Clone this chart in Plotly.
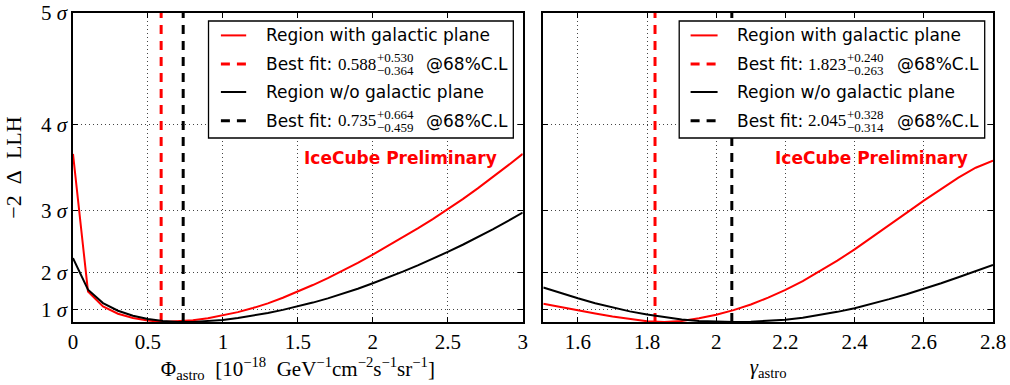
import plotly.graph_objects as go

# ---------------- data ----------------
phi_grid = [0.0, 0.1, 0.2, 0.3, 0.4, 0.5, 0.6, 0.7, 0.8, 0.9, 1.0, 1.1, 1.2, 1.3, 1.4, 1.5,
            1.6, 1.7, 1.8, 1.9, 2.0, 2.1, 2.2, 2.3, 2.4, 2.5, 2.6, 2.7, 2.8, 2.9, 3.0]
phi_with_gp = [13.6, 2.47, 1.26, 0.67, 0.32, 0.12, 0.0, 0.04, 0.14, 0.30, 0.52, 0.80, 1.13, 1.51,
               1.96, 2.46, 2.99, 3.55, 4.14, 4.78, 5.45, 6.14, 6.85, 7.58, 8.33, 9.11, 9.94,
               10.81, 11.71, 12.65, 13.6]
phi_wo_gp = [5.17, 2.61, 1.53, 0.91, 0.51, 0.24, 0.09, 0.01, 0.01, 0.06, 0.17, 0.32, 0.51, 0.73,
             0.98, 1.26, 1.57, 1.91, 2.28, 2.69, 3.13, 3.59, 4.07, 4.58, 5.11, 5.67, 6.25, 6.86,
             7.5, 8.16, 8.85]

gamma_grid = [1.50, 1.55, 1.60, 1.65, 1.70, 1.75, 1.80, 1.85, 1.90, 1.95, 2.00, 2.05, 2.10, 2.15,
              2.20, 2.25, 2.30, 2.35, 2.40, 2.45, 2.50, 2.55, 2.60, 2.65, 2.70, 2.75, 2.80]
gamma_with_gp = [1.48, 1.20, 0.94, 0.69, 0.45, 0.23, 0.06, 0.01, 0.09, 0.30, 0.59, 0.96, 1.42, 1.97,
                 2.60, 3.31, 4.10, 4.96, 5.88, 6.84, 7.83, 8.83, 9.82, 10.78, 11.68, 12.48, 13.06]
gamma_wo_gp = [2.79, 2.33, 1.92, 1.52, 1.17, 0.86, 0.60, 0.38, 0.21, 0.09, 0.02, 0.0, 0.02, 0.08,
               0.19, 0.35, 0.56, 0.82, 1.12, 1.47, 1.85, 2.25, 2.68, 3.14, 3.62, 4.11, 4.62]

# best fits: (value, +err, -err)
phi_best_with = (0.588, 0.530, 0.364)
phi_best_wo = (0.735, 0.664, 0.459)
gamma_best_with = (1.823, 0.240, 0.263)
gamma_best_wo = (2.045, 0.328, 0.314)

sigma_vals = [1, 4, 9, 16, 25]
sigma_text = ["1 <i>σ</i>", "2 <i>σ</i>", "3 <i>σ</i>", "4 <i>σ</i>", "5 <i>σ</i>"]
phi_ticks = [0, 0.5, 1, 1.5, 2, 2.5, 3]
phi_ticktext = ["0", "0.5", "1", "1.5", "2", "2.5", "3"]
gamma_ticks = [1.6, 1.8, 2.0, 2.2, 2.4, 2.6, 2.8]
gamma_ticktext = ["1.6", "1.8", "2", "2.2", "2.4", "2.6", "2.8"]

# ---------------- layout helpers ----------------
W, H = 1010, 385
L, R, T, B = 72.7, 993.3, 13.3, 322.3   # plot area in page pixels
PW, PH = R - L, B - T

def px(x):
    return (x - L) / PW
def py(y):
    return (B - y) / PH

RED = "#ff0000"
BLK = "#000000"
SANS = "DejaVu Sans"
SERIF = "Liberation Serif"
DASH = "9px,7px"
NB = "\u00a0"

fig = go.Figure()

def add_panel(xgrid, y_with, y_wo, best_with, best_wo, xa, ya):
    fig.add_trace(go.Scatter(x=xgrid, y=y_with, mode="lines", name="Region with galactic plane",
                             line=dict(color=RED, width=2), xaxis=xa, yaxis=ya, showlegend=False))
    fig.add_trace(go.Scatter(x=[best_with[0], best_with[0]], y=[0, 25], mode="lines",
                             name="Best fit (with galactic plane)",
                             line=dict(color=RED, width=3, dash=DASH), xaxis=xa, yaxis=ya,
                             showlegend=False))
    fig.add_trace(go.Scatter(x=xgrid, y=y_wo, mode="lines", name="Region w/o galactic plane",
                             line=dict(color=BLK, width=2), xaxis=xa, yaxis=ya, showlegend=False))
    fig.add_trace(go.Scatter(x=[best_wo[0], best_wo[0]], y=[0, 25], mode="lines",
                             name="Best fit (w/o galactic plane)",
                             line=dict(color=BLK, width=3, dash=DASH), xaxis=xa, yaxis=ya,
                             showlegend=False))

add_panel(phi_grid, phi_with_gp, phi_wo_gp, phi_best_with, phi_best_wo, "x", "y")
add_panel(gamma_grid, gamma_with_gp, gamma_wo_gp, gamma_best_with, gamma_best_wo, "x2", "y2")

axis_common = dict(
    showline=True, linecolor="black", linewidth=1.6, mirror="allticks",
    ticks="inside", ticklen=5, tickwidth=1, tickcolor="black",
    showgrid=True, gridcolor="#444444", gridwidth=1, griddash="1px,3px",
    zeroline=False, automargin=False,
    tickfont=dict(family=SERIF, size=21, color="black"),
)

fig.update_layout(
    template="none",
    font=dict(family=SERIF, color="black"),
    width=W, height=H,
    margin=dict(l=L, r=W - R, t=T, b=H - B, pad=0),
    paper_bgcolor="white", plot_bgcolor="white",
    showlegend=False,
    xaxis=dict(domain=[px(72.7), px(522.7)], range=[0, 3], anchor="y",
               tickvals=phi_ticks, ticktext=phi_ticktext,
               title=dict(text="Φ<sub>astro</sub>" + NB * 2 + "[10<sup>−18</sup>" + NB * 2
                          + "GeV<sup>−1</sup>cm<sup>−2</sup>s<sup>−1</sup>sr<sup>−1</sup>]",
                          font=dict(family=SERIF, size=21, color="black"), standoff=6),
               **axis_common),
    yaxis=dict(domain=[0, 1], range=[0, 25], anchor="x",
               tickvals=sigma_vals, ticktext=sigma_text,
               title=dict(text="−2" + NB * 2 + "Δ" + NB * 2 + "LLH",
                          font=dict(family=SERIF, size=22, color="black"), standoff=13),
               **axis_common),
    xaxis2=dict(domain=[px(543.3), px(993.3)], range=[1.5, 2.8], anchor="y2",
                tickvals=gamma_ticks, ticktext=gamma_ticktext,
                title=dict(text="<i>γ</i><sub>astro</sub>",
                           font=dict(family=SERIF, size=21, color="black"), standoff=6),
                **axis_common),
    yaxis2=dict(domain=[0, 1], range=[0, 25], anchor="x2",
                tickvals=sigma_vals, showticklabels=False,
                **axis_common),
)

shapes = []
annotations = []

def legend_box(left, right, line_x0, line_x1, text_x, num_x, supsub_x, cl_x, labels):
    top, bottom = 21.3, 138.3
    shapes.append(dict(type="rect", xref="paper", yref="paper",
                       x0=px(left), x1=px(right), y0=py(bottom), y1=py(top),
                       line=dict(color="black", width=1.3), fillcolor="white", layer="above"))
    rows = [35.7, 64.3, 92.3, 121.0]
    styles = [(RED, 2, "solid"), (RED, 3, DASH), (BLK, 2, "solid"), (BLK, 3, DASH)]
    for yr, (c, w, d) in zip(rows, styles):
        shapes.append(dict(type="line", xref="paper", yref="paper",
                           x0=px(line_x0), x1=px(line_x1), y0=py(yr), y1=py(yr),
                           line=dict(color=c, width=w, dash=d), layer="above"))
    name_with, best_with, name_wo, best_wo = labels
    for yr, name in ((rows[0], name_with), (rows[2], name_wo)):
        annotations.append(dict(xref="paper", yref="paper", x=px(text_x), y=py(yr),
                                xanchor="left", yanchor="middle", showarrow=False, text=name,
                                font=dict(family=SANS, size=17, color="black")))
    for yr, bf in ((rows[1], best_with), (rows[3], best_wo)):
        annotations.append(dict(xref="paper", yref="paper", x=px(text_x), y=py(yr),
                                xanchor="left", yanchor="middle", showarrow=False, text="Best fit:",
                                font=dict(family=SANS, size=17, color="black")))
        annotations.append(dict(xref="paper", yref="paper", x=px(num_x), y=py(yr),
                                xanchor="left", yanchor="middle", showarrow=False,
                                text=f"{bf[0]:.3f}",
                                font=dict(family=SERIF, size=17, color="black")))
        annotations.append(dict(xref="paper", yref="paper", x=px(supsub_x), y=py(yr - 6.5),
                                xanchor="left", yanchor="middle", showarrow=False,
                                text=f"+{bf[1]:.3f}",
                                font=dict(family=SERIF, size=13, color="black")))
        annotations.append(dict(xref="paper", yref="paper", x=px(supsub_x), y=py(yr + 6.5),
                                xanchor="left", yanchor="middle", showarrow=False,
                                text=f"−{bf[2]:.3f}",
                                font=dict(family=SERIF, size=13, color="black")))
        annotations.append(dict(xref="paper", yref="paper", x=px(cl_x), y=py(yr),
                                xanchor="left", yanchor="middle", showarrow=False, text="@68%C.L",
                                font=dict(family=SANS, size=17, color="black")))

legend_box(208.3, 513.3, 220.7, 246.0, 264.0, 336.0, 375.0, 424.0,
           ("Region with galactic plane", phi_best_with, "Region w/o galactic plane", phi_best_wo))
legend_box(679.3, 985.0, 690.7, 717.7, 735.0, 806.0, 845.0, 895.0,
           ("Region with galactic plane", gamma_best_with, "Region w/o galactic plane", gamma_best_wo))

for xr in (499.0, 970.0):
    annotations.append(dict(xref="paper", yref="paper", x=px(xr), y=py(158.0),
                            xanchor="right", yanchor="middle", showarrow=False,
                            text="<b>IceCube Preliminary</b>",
                            font=dict(family=SANS, size=17, color=RED)))

fig.update_layout(shapes=shapes, annotations=annotations)
fig.write_html("out.html", config={"displayModeBar": False},
               post_script="document.body.style.margin='0px';")
